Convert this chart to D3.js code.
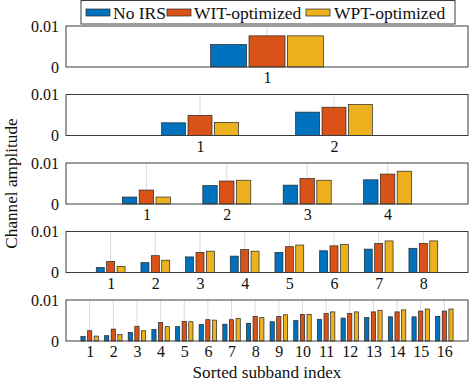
<!DOCTYPE html>
<html>
<head>
<meta charset="utf-8">
<script src="https://cdn.jsdelivr.net/npm/d3@7"></script>
<style>
  html, body { margin: 0; padding: 0; background: #fff; }
  svg { display: block; }
</style>
</head>
<body>
<svg id="chart" width="470" height="382"></svg>
<script>
// ---- data (channel amplitude per sorted subband) ----
const seriesNames = ["No IRS", "WIT-optimized", "WPT-optimized"];
const colors = ["#0072BD", "#D95319", "#EDB120"];

const noIRS_1 = [0.0055];
const wit_1   = [0.0076];
const wpt_1   = [0.0076];

const noIRS_2 = [0.0031, 0.0057];
const wit_2   = [0.0049, 0.0069];
const wpt_2   = [0.0032, 0.0076];

const noIRS_4 = [0.0017, 0.0045, 0.0046, 0.0059];
const wit_4   = [0.0034, 0.0056, 0.0062, 0.0073];
const wpt_4   = [0.0017, 0.0058, 0.0058, 0.0080];

const noIRS_8 = [0.0012, 0.0024, 0.0038, 0.0040, 0.0049, 0.0053, 0.0057, 0.0059];
const wit_8   = [0.0027, 0.0041, 0.0049, 0.0056, 0.0063, 0.0065, 0.0071, 0.0071];
const wpt_8   = [0.0015, 0.0030, 0.0052, 0.0052, 0.0067, 0.0068, 0.0077, 0.0077];

const noIRS_16 = [0.0011, 0.0013, 0.0021, 0.0028, 0.0035, 0.0040, 0.0041, 0.0043,
                  0.0047, 0.0050, 0.0053, 0.0056, 0.0057, 0.0059, 0.0059, 0.0060];
const wit_16   = [0.0025, 0.0029, 0.0036, 0.0045, 0.0048, 0.0052, 0.0052, 0.0060,
                  0.0060, 0.0065, 0.0067, 0.0067, 0.0071, 0.0071, 0.0073, 0.0073];
const wpt_16   = [0.0012, 0.0016, 0.0025, 0.0035, 0.0047, 0.0051, 0.0055, 0.0057,
                  0.0064, 0.0065, 0.0071, 0.0071, 0.0075, 0.0076, 0.0078, 0.0078];

const yTickValues = [0, 0.01];
const yTickLabels = ["0", "0.01"];
const xLabel = "Sorted subband index";
const yLabel = "Channel amplitude";

const panels = [
  [noIRS_1, wit_1, wpt_1],
  [noIRS_2, wit_2, wpt_2],
  [noIRS_4, wit_4, wpt_4],
  [noIRS_8, wit_8, wpt_8],
  [noIRS_16, wit_16, wpt_16]
];

// ---- layout ----
const FONT = '"Liberation Serif"';
const svg = d3.select("#chart");
const left = 66, right = 468;
const firstTop = 26, panelStep = 68.5, panelH = 41;
const fontSize = 16;
const labelSize = 17.2;
const axisColor = "#3c3c3c";
const textColor = "#111";

function serif(sel) { return sel.style("font-family", FONT); }

panels.forEach((series, p) => {
  const n = series[0].length;
  const top = firstTop + p * panelStep;
  const bottom = top + panelH;
  const x = d3.scaleLinear().domain([0, n + 1]).range([left, right]);
  const y = d3.scaleLinear().domain([0, 0.01]).range([bottom, top]);
  const unit = x(1) - x(0);
  const barW = 0.179 * unit;
  const step = barW + 2.4;

  const g = svg.append("g");

  // vertical grid lines
  const cats = d3.range(1, n + 1);
  g.append("g").selectAll("line").data(cats).join("line")
    .attr("x1", d => x(d)).attr("x2", d => x(d))
    .attr("y1", top).attr("y2", bottom)
    .attr("stroke", "#dcdcdc").attr("stroke-width", 1);

  // bars
  series.forEach((vals, s) => {
    g.append("g").selectAll("rect").data(vals).join("rect")
      .attr("x", (d, i) => x(i + 1) + (s - 1) * step - barW / 2)
      .attr("y", d => y(d))
      .attr("width", barW)
      .attr("height", d => y(0) - y(d))
      .attr("fill", colors[s])
      .attr("stroke", "#262626")
      .attr("stroke-width", 0.7);
  });

  // box
  g.append("rect")
    .attr("x", left).attr("y", top)
    .attr("width", right - left).attr("height", panelH)
    .attr("fill", "none").attr("stroke", axisColor).attr("stroke-width", 1);

  // x axis
  const xAxis = d3.axisBottom(x).tickValues(cats).tickSize(0).tickPadding(5)
    .tickFormat(d3.format("d"));
  const xa = g.append("g").attr("transform", `translate(0,${bottom})`).call(xAxis);
  xa.attr("font-family", null);
  xa.select(".domain").remove();
  serif(xa.selectAll("text")).attr("font-size", fontSize).attr("fill", textColor);

  // y axis
  const yAxis = d3.axisLeft(y).tickValues(yTickValues).tickSize(0).tickPadding(7)
    .tickFormat((d, i) => yTickLabels[i]);
  const ya = g.append("g").attr("transform", `translate(${left},0)`).call(yAxis);
  ya.attr("font-family", null);
  ya.select(".domain").remove();
  serif(ya.selectAll("text")).attr("font-size", fontSize).attr("fill", textColor);
});

// axis labels
serif(svg.append("text"))
  .attr("x", (left + right) / 2).attr("y", 377.5)
  .attr("text-anchor", "middle").attr("font-size", labelSize).attr("fill", textColor)
  .text(xLabel);

serif(svg.append("text"))
  .attr("transform", `translate(17,${firstTop + (4 * panelStep + panelH) / 2}) rotate(-90)`)
  .attr("text-anchor", "middle").attr("font-size", labelSize).attr("fill", textColor)
  .text(yLabel);

// legend
const lg = svg.append("g");
lg.append("rect").attr("x", 81).attr("y", 0.5).attr("width", 374).attr("height", 23.5)
  .attr("fill", "#fff").attr("stroke", axisColor).attr("stroke-width", 1);
const swatchX = [86, 167, 306];
const textX = [113, 194, 334];
seriesNames.forEach((name, i) => {
  lg.append("rect").attr("x", swatchX[i]).attr("y", 9).attr("width", 24).attr("height", 7)
    .attr("fill", colors[i]).attr("stroke", "#262626").attr("stroke-width", 0.7);
  serif(lg.append("text")).attr("x", textX[i]).attr("y", 18.5)
    .attr("font-size", 17.5).attr("fill", textColor)
    .text(name);
});
</script>
</body>
</html>
